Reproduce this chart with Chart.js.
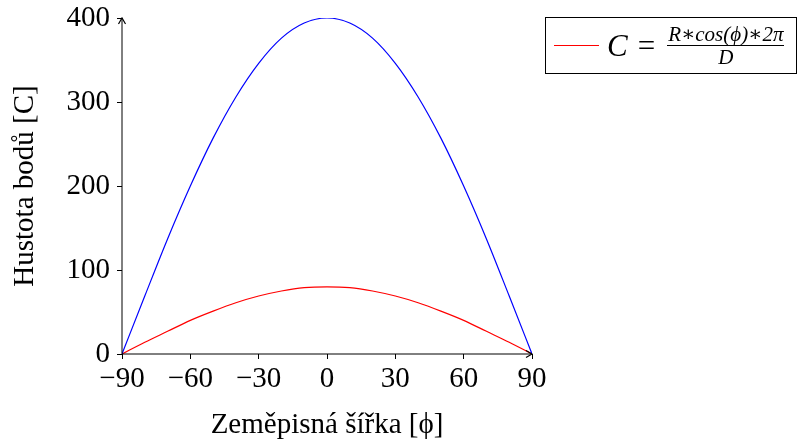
<!DOCTYPE html>
<html>
<head>
<meta charset="utf-8">
<script src="https://cdn.jsdelivr.net/npm/chart.js@4/dist/chart.umd.min.js"></script>
<style>
    html, body { margin: 0; padding: 0; background: #fff; }
    #wrap { position: relative; width: 802px; height: 443px; }
    #legend {
        position: absolute; left: 545px; top: 17px; width: 252px; height: 57px;
        border: 1px solid #000; box-sizing: border-box;
        font-family: "Liberation Serif", "DejaVu Serif", serif; color: #000;
        display: flex; align-items: center;
    }
    #legend .swatch { width: 45px; height: 1.5px; background: #ff0000; margin-left: 8px; margin-right: 8px; }
    #legend .lhs { font-size: 31px; font-style: italic; }
    #legend .eq { font-size: 31px; margin: 0 12px 0 10px; }
    #legend .frac { display: inline-flex; flex-direction: column; align-items: center; font-size: 21px; font-style: italic; }
    #legend .num { border-bottom: 1.5px solid #000; padding: 0 1px; line-height: 22px; }
    #legend .den { line-height: 22px; }
</style>
</head>
<body>
<div id="wrap">
    <canvas id="chart" width="802" height="443"></canvas>
    <div id="legend">
        <span class="swatch"></span>
        <span class="lhs">C</span><span class="eq">=</span>
        <span class="frac"><span class="num">R∗cos(ϕ)∗2π</span><span class="den">D</span></span>
    </div>
</div>
<script>
// Latitude values (degrees)
const latitudes = [-90, -80, -70, -60, -50, -40, -30, -20, -10, 0, 10, 20, 30, 40, 50, 60, 70, 80, 90];
// Blue curve
const blueValues = [0, 69, 137, 200, 257, 306, 346, 376, 394, 400, 394, 376, 346, 306, 257, 200, 137, 69, 0];
// Red curve
const redValues = [0, 14, 27, 40, 51, 61, 69, 75, 79, 80, 79, 75, 69, 61, 51, 40, 27, 14, 0];
// Tick labels
const xTicks = [-90, -60, -30, 0, 30, 60, 90];
const yTicks = [0, 100, 200, 300, 400];

const serif = '"Liberation Serif", "DejaVu Serif", serif';

// Draw axis lines with arrow heads
const axisArrows = {
    id: 'axisArrows',
    afterDraw(chart) {
        const ctx = chart.ctx;
        const xs = chart.scales.x;
        const ys = chart.scales.y;
        const x0 = xs.getPixelForValue(-90);
        const x1 = xs.getPixelForValue(90);
        const y0 = ys.getPixelForValue(0);
        const y1 = ys.getPixelForValue(400);
        ctx.save();
        ctx.strokeStyle = '#000';
        ctx.lineWidth = 1;
        ctx.beginPath();
        ctx.moveTo(x0, y0); ctx.lineTo(x1, y0);
        ctx.moveTo(x0, y0); ctx.lineTo(x0, y1);
        ctx.stroke();
        ctx.lineWidth = 1.2;
        ctx.beginPath();
        ctx.moveTo(x1 - 6, y0 - 3.5); ctx.lineTo(x1, y0); ctx.lineTo(x1 - 6, y0 + 3.5);
        ctx.moveTo(x0 - 3.5, y1 + 6); ctx.lineTo(x0, y1); ctx.lineTo(x0 + 3.5, y1 + 6);
        ctx.stroke();
        ctx.restore();
    }
};

const ctx = document.getElementById('chart').getContext('2d');
const chart = new Chart(ctx, {
    type: 'line',
    data: {
        labels: latitudes,
        datasets: [
            {
                label: 'blue',
                data: latitudes.map((x, i) => ({ x: x, y: blueValues[i] })),
                borderColor: '#0000ff',
                borderWidth: 1.2,
                pointRadius: 0,
                cubicInterpolationMode: 'monotone',
                fill: false
            },
            {
                label: 'red',
                data: latitudes.map((x, i) => ({ x: x, y: redValues[i] })),
                borderColor: '#ff0000',
                borderWidth: 1.2,
                pointRadius: 0,
                cubicInterpolationMode: 'monotone',
                fill: false
            }
        ]
    },
    options: {
        responsive: false,
        animation: false,
        layout: { padding: { top: 18, right: 270, left: 0, bottom: 0 } },
        plugins: {
            legend: { display: false },
            tooltip: { enabled: false }
        },
        scales: {
            x: {
                type: 'linear',
                min: -90,
                max: 90,
                afterBuildTicks: function(scale) {
                    scale.ticks = xTicks.map(v => ({ value: v }));
                },
                afterFit: function(scale) {
                    scale.height = 89;
                    scale.paddingLeft = 0;
                    scale.paddingRight = 0;
                },
                border: { display: false },
                grid: { drawOnChartArea: false, color: '#000', tickLength: 5 },
                ticks: {
                    color: '#000',
                    padding: 3,
                    maxRotation: 0,
                    font: { family: serif, size: 29 },
                    callback: function(value) {
                        return value < 0 ? '\u2212' + Math.abs(value) : String(value);
                    }
                },
                title: {
                    display: true,
                    text: 'Zeměpisná šířka [ϕ]',
                    color: '#000',
                    padding: { top: 10, bottom: 0 },
                    font: { family: serif, size: 29 }
                }
            },
            y: {
                min: 0,
                max: 400,
                afterBuildTicks: function(scale) {
                    scale.ticks = yTicks.map(v => ({ value: v }));
                },
                afterFit: function(scale) {
                    scale.width = 122;
                    scale.paddingTop = 0;
                    scale.paddingBottom = 0;
                },
                border: { display: false },
                grid: { drawOnChartArea: false, color: '#000', tickLength: 5 },
                ticks: {
                    color: '#000',
                    padding: 7,
                    font: { family: serif, size: 29 }
                },
                title: {
                    display: true,
                    text: 'Hustota bodů [C]',
                    color: '#000',
                    padding: { top: 8, bottom: 0 },
                    font: { family: serif, size: 29 }
                }
            }
        }
    },
    plugins: [axisArrows]
});
</script>
</body>
</html>
